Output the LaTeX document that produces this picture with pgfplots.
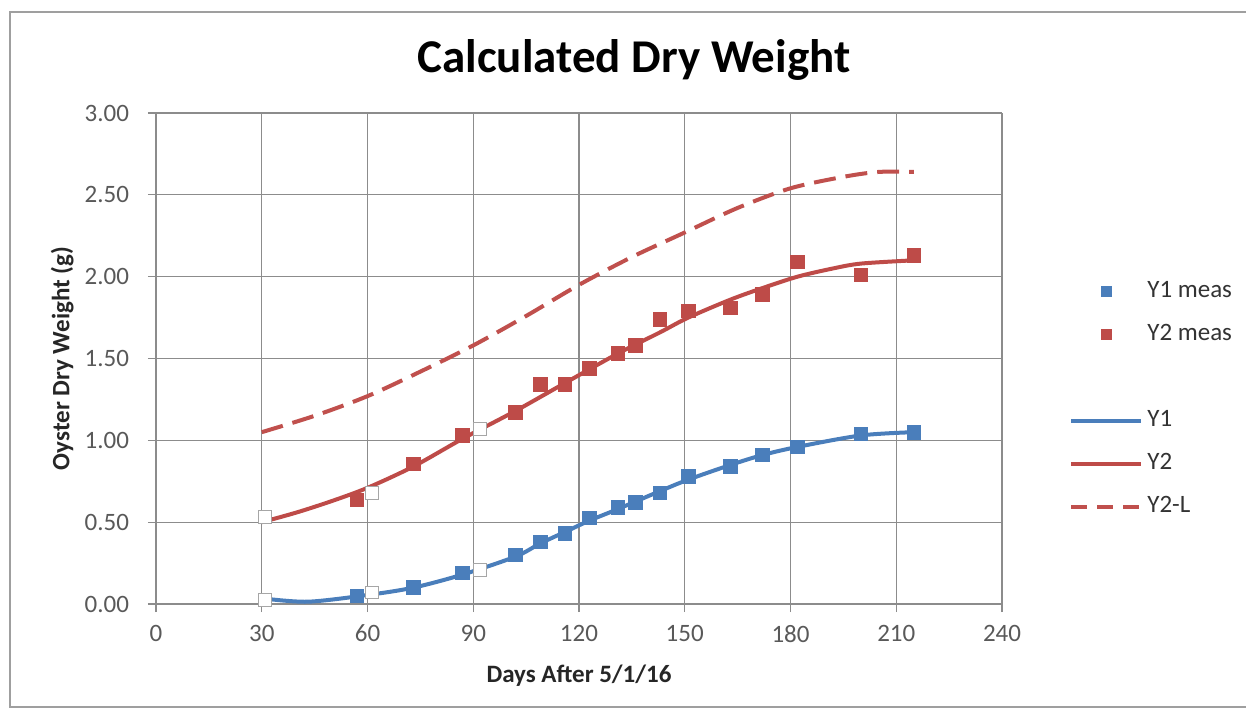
\documentclass[border=0pt]{standalone}
\usepackage{pgfplots}
\pgfplotsset{compat=1.18}
\usepackage{fontspec}
\setmainfont{Carlito}
\definecolor{ablue}{HTML}{4A7EBB}
\definecolor{ared}{HTML}{BE4B48}
\definecolor{dred}{HTML}{C0504D}
\definecolor{gridc}{HTML}{8C8C8C}
\definecolor{tickc}{HTML}{595959}
\pgfplotsset{
  markleg/.style={legend image code/.code={\path[draw=none] (0pt,0pt) -- (35pt,0pt); \path[##1, draw=none] plot coordinates {(17.5pt,0pt)};}},
  lineleg/.style={legend image code/.code={\draw[##1] (0pt,0pt) -- (35pt,0pt);}},
}
\begin{document}
\begin{tikzpicture}
\useasboundingbox (-78pt,-52.5pt) rectangle (545pt,302pt);
\draw[gray!75, line width=1pt] (546pt,296pt) -- (-73pt,296pt) -- (-73pt,-51.5pt) -- (546pt,-51.5pt);
\begin{axis}[
  at={(0pt,0pt)}, anchor=south west,
  width=423pt, height=245.5pt, scale only axis,
  xmin=0, xmax=240, ymin=0, ymax=3,
  xtick={0,30,...,240}, ytick={0,0.5,1,1.5,2,2.5,3},
  axis lines*=left,
  axis line style={gridc, line width=0.7pt},
  grid=major,
  major grid style={gridc, line width=0.6pt},
  tick align=outside, major tick length=4pt,
  tick style={gridc, line width=0.6pt},
  xtick pos=bottom, ytick pos=left,
  /pgf/number format/assume math mode=true,
  yticklabel style={/pgf/number format/fixed, /pgf/number format/precision=2, /pgf/number format/zerofill},
  ticklabel style={font=\fontsize{12.5}{14}\selectfont, text=tickc},
  xticklabel style={yshift=-3pt},
  yticklabel style={xshift=-6pt},
  xlabel={\textbf{Days After 5/1/16}},
  ylabel={\textbf{Oyster Dry Weight (g)}},
  xlabel style={at={(axis description cs:0.5,-0.1466)}, anchor=center, font=\fontsize{12.5}{14}\selectfont, text=black!85},
  ylabel style={at={(axis description cs:-0.111,0.5)}, anchor=center, font=\fontsize{12.5}{14}\selectfont, text=black!85},
  legend style={at={(axis description cs:1.072,0.678)}, anchor=north west, draw=none, fill=none,
    font=\fontsize{12.5}{15}\selectfont, text=black!80, row sep=5.5pt,
    nodes={inner sep=2pt, text height=9pt, text depth=3pt}},
  legend cell align=left,
]
% legend images
\addlegendimage{only marks, mark=square*, mark size=2.4pt, color=ablue, markleg}
\addlegendentry{Y1 meas}
\addlegendimage{only marks, mark=square*, mark size=2.4pt, color=ared, markleg}
\addlegendentry{Y2 meas}
\addlegendimage{empty legend}
\addlegendentry{}
\addlegendimage{ablue, line width=2pt, lineleg}
\addlegendentry{Y1}
\addlegendimage{ared, line width=2pt, lineleg}
\addlegendentry{Y2}
\addlegendimage{dred, line width=2pt, dash pattern=on 8pt off 5pt, lineleg}
\addlegendentry{Y2-L}

% hollow squares
\addplot[forget plot, only marks, mark=square*, mark size=3.2pt, mark options={fill=white, draw=gray!70, line width=0.5pt}]
  coordinates {(30.9,0.53) (61.3,0.68) (92,1.07) (30.9,0.025) (61.3,0.07) (92,0.21)};

% model lines
\addplot[forget plot, dred, line width=2pt, dash pattern=on 11pt off 5pt, smooth, tension=0.5]
  coordinates {(30,1.05) (45,1.15) (60,1.27) (75,1.42) (90,1.58) (105,1.76) (120,1.95) (135,2.12) (150,2.27) (165,2.42) (180,2.54) (195,2.61) (205,2.64) (215,2.64)};
\addplot[forget plot, ared, line width=2pt, smooth, tension=0.5]
  coordinates {(30,0.50) (40,0.56) (50,0.63) (60,0.71) (73,0.84) (87,1.01) (102,1.18) (116,1.35) (131,1.53) (143,1.66) (151,1.75) (163,1.86) (172,1.93) (182,2.00) (192,2.05) (200,2.08) (215,2.10)};
\addplot[forget plot, ablue, line width=2pt, smooth, tension=0.5]
  coordinates {(30,0.035) (43,0.014) (60,0.055) (73,0.10) (87,0.18) (102,0.29) (109,0.37) (116,0.44) (123,0.51) (131,0.58) (143,0.69) (151,0.76) (163,0.85) (172,0.91) (182,0.96) (200,1.03) (215,1.05)};

% measured
\addplot[forget plot, only marks, mark=square*, mark size=3.4pt, color=ablue]
  coordinates {(57,0.05) (73,0.10) (87,0.19) (102,0.30) (109,0.38) (116,0.43) (123,0.525) (131,0.59) (136,0.62) (143,0.68) (151,0.78) (163,0.84) (172,0.91) (182,0.96) (200,1.04) (215,1.05)};
\addplot[forget plot, only marks, mark=square*, mark size=3.4pt, color=ared]
  coordinates {(57,0.635) (73,0.855) (87,1.03) (102,1.17) (109,1.34) (116,1.34) (123,1.44) (131,1.53) (136,1.58) (143,1.74) (151,1.79) (163,1.81) (172,1.89) (182,2.09) (200,2.01) (215,2.13)};
\end{axis}
\node[font=\fontsize{23.5}{26}\selectfont\bfseries] at (239pt,272pt) {Calculated Dry Weight};
\end{tikzpicture}
\end{document}
